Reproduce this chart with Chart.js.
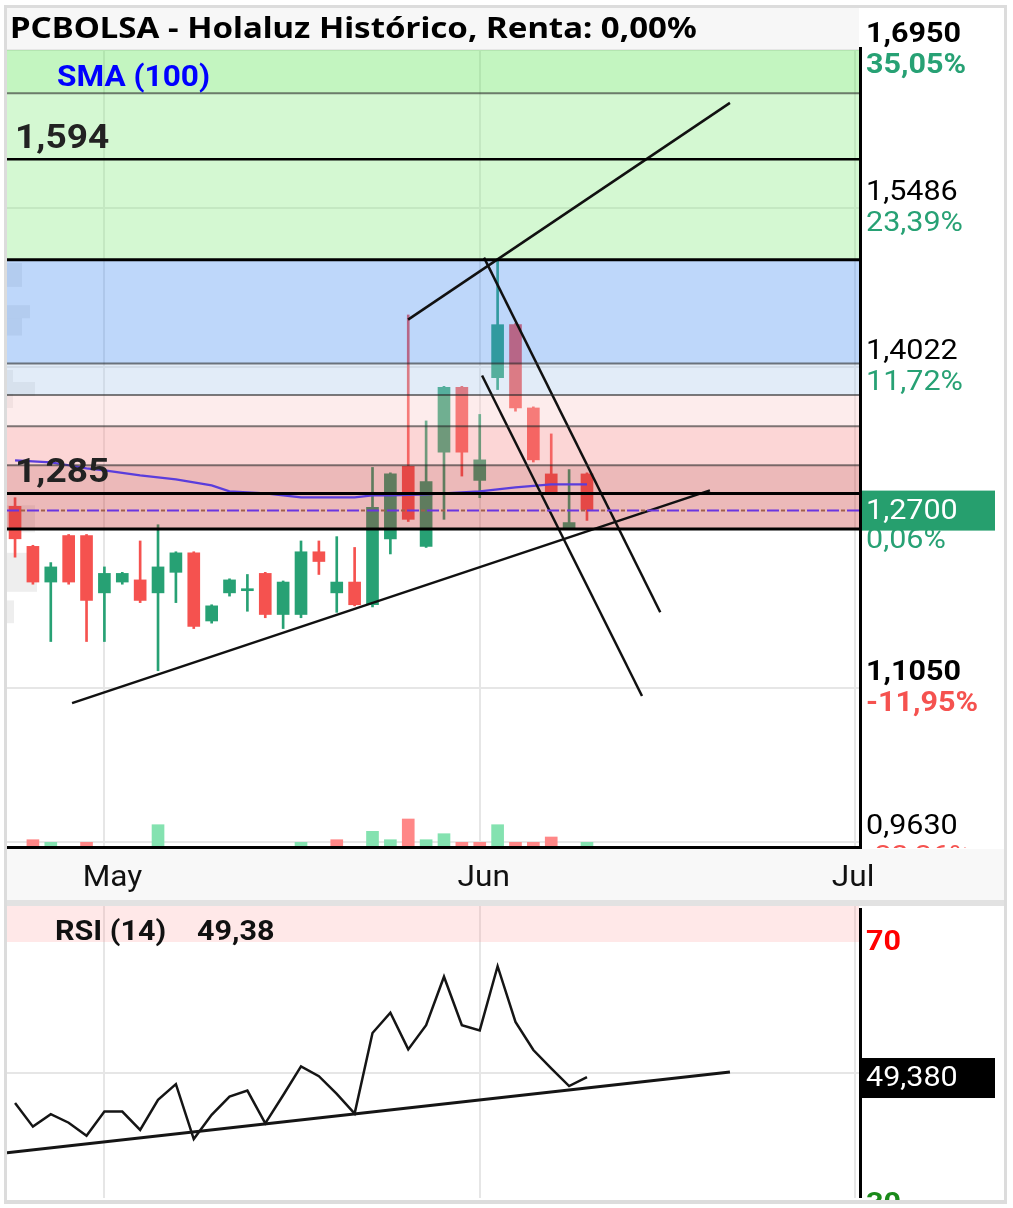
<!DOCTYPE html>
<html>
<head>
<meta charset="utf-8">
<script src="https://cdn.jsdelivr.net/npm/chart.js@4.4.1/dist/chart.umd.min.js"></script>
<style>
  html, body { margin: 0; padding: 0; background: #fff; }
  #wrap { position: relative; width: 1013px; height: 1208px; }
  #main { position: absolute; left: 0; top: 0; }
  #rsi { position: absolute; left: 0; top: 900px; }
</style>
</head>
<body>
<div id="wrap">
  <canvas id="main" width="1013" height="900"></canvas>
  <canvas id="rsi" width="1013" height="308"></canvas>
</div>
<script>
// ---- Sesiones (Holaluz, HLZ) ----
const dates = ['2025-04-24','2025-04-25','2025-04-28','2025-04-29','2025-04-30',
  '2025-05-02','2025-05-05','2025-05-06','2025-05-07','2025-05-08','2025-05-09',
  '2025-05-12','2025-05-13','2025-05-14','2025-05-15','2025-05-16','2025-05-19',
  '2025-05-20','2025-05-21','2025-05-22','2025-05-23','2025-05-26','2025-05-27',
  '2025-05-28','2025-05-29','2025-05-30','2025-06-02','2025-06-03','2025-06-04',
  '2025-06-05','2025-06-06','2025-06-09','2025-06-10'];

const open  = [1.273,1.236,1.203,1.246,1.246,1.193,1.203,1.205,1.193,1.212,1.230,1.167,1.193,1.195,1.211,1.173,1.173,1.231,1.193,1.203,1.182,1.243,1.310,1.236,1.323,1.383,1.297,1.392,1.441,1.364,1.303,1.253,1.303];
const high  = [1.281,1.237,1.221,1.247,1.247,1.217,1.212,1.241,1.256,1.231,1.231,1.182,1.206,1.210,1.212,1.204,1.241,1.241,1.245,1.235,1.309,1.304,1.450,1.352,1.384,1.384,1.358,1.501,1.442,1.365,1.340,1.307,1.304];
const low   = [1.226,1.201,1.148,1.201,1.148,1.148,1.201,1.184,1.121,1.184,1.160,1.165,1.190,1.176,1.170,1.160,1.170,1.210,1.175,1.181,1.180,1.229,1.259,1.235,1.261,1.301,1.281,1.381,1.361,1.314,1.285,1.252,1.260];
const close = [1.243,1.203,1.217,1.203,1.186,1.211,1.211,1.186,1.217,1.230,1.162,1.181,1.205,1.196,1.173,1.203,1.231,1.222,1.203,1.182,1.272,1.303,1.261,1.296,1.383,1.323,1.316,1.441,1.364,1.316,1.286,1.258,1.270];

// Volumen (miles de acciones)
const volume = [0,73,47,0,47,0,0,0,223,0,0,0,0,0,0,0,47,0,73,0,157,73,280,73,133,47,47,223,47,47,100,0,47];

// Perfil de volumen por precio: tramo [desde, hasta] y volumen acumulado
const profileFrom = [1.476, 1.447, 1.431, 1.388, 1.375, 1.364, 1.249, 1.194, 1.165];
const profileTo   = [1.498, 1.459, 1.447, 1.399, 1.388, 1.377, 1.274, 1.230, 1.186];
const profileVol  = [15, 23, 15, 6, 28, 6, 28, 30, 7];

// Media simple de 100 sesiones
const sma100 = [1.3155,1.3146,1.3137,1.3110,1.3081,1.3063,1.3040,1.3017,1.2998,1.2980,1.2952,1.2924,1.2869,1.2860,1.2850,1.2832,1.2813,1.2813,1.2813,1.2813,1.2832,1.2832,1.2836,1.2841,1.2850,1.2860,1.2869,1.2887,1.2906,1.2920,1.2933,1.2933,1.2933];

// RSI (14)
const rsi14 = [45.4,41.8,43.7,42.4,40.4,44.1,44.1,41.3,45.9,48.3,39.9,43.6,46.4,47.3,42.3,46.6,51.0,49.5,46.8,43.8,56.1,59.2,53.6,57.3,64.7,57.3,56.5,66.3,57.8,53.5,50.7,48.0,49.38];

// Niveles de Fibonacci (mínimo 1,252 -> máximo 1,501)
const fibLevels = [1.252, 1.311, 1.347, 1.376, 1.405, 1.501, 1.655];
// Soportes / resistencias horizontales
const hLevels = [1.594, 1.285];
const hLabels = ['1,594', '1,285'];

// Líneas de tendencia: [índice sesión, precio]
const trendPrice = [
  [[3.19, 1.0911], [38.88, 1.2878]],
  [[21.99, 1.4457], [40.00, 1.6461]],
  [[26.24, 1.5030], [36.10, 1.1751]],
  [[26.13, 1.3940], [35.08, 1.0976]]
];
const trendRsi = [[-0.45, 37.8], [40.0, 50.15]];

// Escala de precios
const priceTicks = [1.695, 1.5486, 1.4022, 1.105, 0.963];
const priceTickText = ['1,6950', '1,5486', '1,4022', '1,1050', '0,9630'];
const priceTickPct = ['35,05%', '23,39%', '11,72%', '-11,95%', '-23,26%'];
const lastPriceText = '1,2700';
const lastChangeText = '0,06%';

// Meses del eje temporal (índice de sesión)
const monthTicks = [5, 26, 47];
const monthLabels = ['May', 'Jun', 'Jul'];

const rsiTicks = [70, 30];
const rsiLastText = '49,380';
const rsiTitle = 'RSI (14)';
const rsiTitleValue = '49,38';
const titleText = 'PCBOLSA - Holaluz Histórico, Renta: 0,00%';

// ---------------------------------------------------------------
const RB = '"Roboto", "Liberation Sans", sans-serif';
Chart.defaults.font.family = 'Roboto';
const GREEN = '#27a174', RED = '#f5524f';
const VOL_GREEN = '#84e2b0', VOL_RED = '#ff8787';
const SX = 1.09;   // ancho de la tipografía de la aplicación
const candleColor = close.map((c, i) => c >= open[i] ? GREEN : RED);
const volColor = close.map((c, i) => (i > 0 && c < close[i - 1]) ? VOL_RED : VOL_GREEN);
const bandFills = [
  'rgba(201,55,55,0.35)',
  'rgba(246,138,138,0.35)',
  'rgba(249,201,201,0.35)',
  'rgba(172,201,235,0.35)',
  'rgba(69,141,241,0.35)',
  'rgba(132,235,126,0.35)',
  'rgba(84,226,75,0.35)'
];
const X_MIN = -0.45, X_MAX = 47.22;
const SMA_DS = 3;

function text(c, s, x, y, font, color, align, sx) {
  c.save();
  c.font = font; c.fillStyle = color; c.textAlign = align || 'left';
  c.textBaseline = 'middle';
  c.translate(x, y); c.scale(sx || SX, 1);
  c.fillText(s, 0, 0);
  c.restore();
}
function frame(c, h, topBar) {
  c.fillStyle = '#dcdcdc';
  c.fillRect(4, 5, 3, h);
  c.fillRect(1004, 5, 3, h);
  if (topBar) c.fillRect(4, 5, 1003, 3);
}

const mainDeco = {
  id: 'mainDeco',
  beforeDraw(chart) {
    const c = chart.ctx;
    c.save();
    c.fillStyle = '#fff'; c.fillRect(0, 0, chart.width, chart.height);
    c.fillStyle = '#f7f7f7'; c.fillRect(7, 8, 852, 42);
    c.restore();
  },
  beforeDatasetsDraw(chart) {
    // perfil de volumen a la izquierda
    const c = chart.ctx, y = chart.scales.y, a = chart.chartArea;
    c.save();
    c.fillStyle = 'rgba(150,150,150,0.16)';
    profileVol.forEach((v, i) => {
      const y0 = y.getPixelForValue(profileTo[i]), y1 = y.getPixelForValue(profileFrom[i]);
      c.fillRect(a.left, y0, v, y1 - y0);
    });
    c.restore();
  },
  beforeDatasetDraw(chart, args) {
    if (args.index !== SMA_DS) return;
    const c = chart.ctx, y = chart.scales.y, a = chart.chartArea;
    c.save();
    c.beginPath(); c.rect(a.left, a.top, a.right - a.left, a.bottom - a.top); c.clip();
    const edges = fibLevels.concat([y.max]);
    for (let i = 0; i < bandFills.length; i++) {
      const y0 = y.getPixelForValue(edges[i]), y1 = y.getPixelForValue(edges[i + 1]);
      c.fillStyle = bandFills[i];
      c.fillRect(a.left, y1, a.right - a.left, y0 - y1);
    }
    c.restore();
  },
  afterDatasetsDraw(chart) {
    const c = chart.ctx, x = chart.scales.x, y = chart.scales.y, a = chart.chartArea;
    c.save();
    c.beginPath(); c.rect(a.left, a.top, a.right - a.left, a.bottom - a.top); c.clip();
    // líneas de Fibonacci
    fibLevels.forEach((v, i) => {
      const py = y.getPixelForValue(v);
      const strong = (i === 0 || i === 5);
      c.strokeStyle = strong ? '#000' : 'rgba(40,40,40,0.6)';
      c.lineWidth = strong ? 3 : 2;
      c.beginPath(); c.moveTo(a.left, py); c.lineTo(a.right, py); c.stroke();
    });
    // horizontales
    hLevels.forEach((v, i) => {
      const py = y.getPixelForValue(v);
      c.strokeStyle = '#000'; c.lineWidth = i === 0 ? 2.5 : 3;
      c.beginPath(); c.moveTo(a.left, py); c.lineTo(a.right, py); c.stroke();
      text(c, hLabels[i], a.left + 8, py - 20, 'bold 34px ' + RB, '#222');
    });
    // precio actual
    const last = close[close.length - 1];
    const pl = Math.round(y.getPixelForValue(last)) + 0.5;
    c.lineWidth = 2;
    c.setLineDash([12, 8]); c.strokeStyle = '#6a35e0';
    c.beginPath(); c.moveTo(a.left, pl); c.lineTo(a.right, pl); c.stroke();
    c.setLineDash([4, 16]); c.lineDashOffset = -14; c.strokeStyle = '#a0604a';
    c.beginPath(); c.moveTo(a.left, pl); c.lineTo(a.right, pl); c.stroke();
    c.setLineDash([]);
    text(c, 'SMA (100)', 57, 79, 'bold 29px ' + RB, '#0000ff');
    c.restore();

    // ejes
    c.save();
    c.fillStyle = '#000';
    c.fillRect(a.right, a.top - 3, 3, a.bottom - a.top + 5);
    c.fillRect(a.left, a.bottom - 1, a.right - a.left + 2, 3);
    // franja de fechas
    c.fillStyle = '#f8f8f8'; c.fillRect(7, a.bottom + 2, 998, chart.height - a.bottom - 2);
    monthTicks.forEach((t, i) => {
      const dx = [8, 4, -2][i];
      text(c, monthLabels[i], x.getPixelForValue(t) + dx, 879, '29px ' + RB, '#111', 'center');
    });
    // etiquetas de precio
    c.beginPath(); c.rect(a.right + 3, 0, chart.width, a.bottom + 1); c.clip();
    priceTicks.forEach((v, i) => {
      const py = y.getPixelForValue(v);
      const bold = (i === 0 || i === 3);
      const neg = priceTickPct[i].charAt(0) === '-';
      text(c, priceTickText[i], 866, py - 15, (bold ? 'bold ' : '') + '28px ' + RB, '#000');
      text(c, priceTickPct[i], 866, py + 16, (bold ? 'bold ' : '') + '28px ' + RB, neg ? RED : GREEN);
    });
    const pp = y.getPixelForValue(last);
    text(c, lastChangeText, 866, pp + 31, '28px ' + RB, GREEN);
    c.fillStyle = '#269f6e'; c.fillRect(a.right + 1, pp - 19, 135, 40);
    text(c, lastPriceText, 866, pp + 2, '28px ' + RB, '#fff');
    c.restore();

    c.save();
    text(c, titleText, 10, 30, 'bold 28px "Noto Sans", ' + RB, '#000', 'left', 1.18);
    frame(c, 900, true);
    c.restore();
  }
};

const candleData = (a, b) => a.map((v, i) => ({ x: i, y: [v, b[i]] }));
const pts = arr => arr.map(p => ({ x: p[0], y: p[1] }));

const trendSets = trendPrice.map(seg => ({
  type: 'line', data: pts(seg), borderColor: '#111', borderWidth: 2.5,
  pointRadius: 0, order: 1, xAxisID: 'x', yAxisID: 'y'
}));

new Chart(document.getElementById('main'), {
  type: 'bar',
  data: {
    datasets: [
      { type: 'bar', label: 'Volumen', data: volume.map((v, i) => ({ x: i, y: v })),
        backgroundColor: volColor, barThickness: 12, grouped: false, order: 6,
        xAxisID: 'x', yAxisID: 'yv' },
      { type: 'bar', label: 'Rango', data: candleData(low, high),
        backgroundColor: candleColor, barThickness: 2, grouped: false, order: 5,
        xAxisID: 'x', yAxisID: 'y' },
      { type: 'bar', label: 'Cuerpo', data: candleData(open, close),
        backgroundColor: candleColor, barThickness: 12, minBarLength: 2, grouped: false, order: 4,
        xAxisID: 'x', yAxisID: 'y' },
      { type: 'line', label: 'SMA (100)', data: sma100.map((v, i) => ({ x: i, y: v })),
        borderColor: '#5a3ddc', borderWidth: 2.2, pointRadius: 0, tension: 0, order: 3,
        xAxisID: 'x', yAxisID: 'y' },
      ...trendSets
    ]
  },
  options: {
    responsive: false, animation: false, devicePixelRatio: 1,
    layout: { padding: { left: 7, top: 50, right: 0, bottom: 0 } },
    plugins: { legend: { display: false }, tooltip: { enabled: false } },
    scales: {
      x: {
        type: 'linear', min: X_MIN, max: X_MAX, offset: false,
        grid: { color: '#e6e6e6', lineWidth: 2, drawTicks: false, offset: false },
        border: { display: false },
        ticks: { display: false },
        afterBuildTicks: s => { s.ticks = monthTicks.map(v => ({ value: v })); },
        afterFit: s => { s.height = 53; }
      },
      y: {
        position: 'right', min: 0.958, max: 1.695,
        grid: { color: '#e6e6e6', lineWidth: 2, drawTicks: false },
        border: { display: false },
        ticks: { display: false },
        afterBuildTicks: s => { s.ticks = priceTicks.map(v => ({ value: v })); },
        afterFit: s => { s.width = 154; }
      },
      yv: { display: false, min: 0, max: 7970 }
    }
  },
  plugins: [mainDeco]
});

// ---------------- RSI ----------------
const rsiDeco = {
  id: 'rsiDeco',
  beforeDraw(chart) {
    const c = chart.ctx;
    c.save(); c.fillStyle = '#fff'; c.fillRect(0, 0, chart.width, chart.height);
    c.fillStyle = '#e2e2e2'; c.fillRect(4, 0, 1003, 6);
    c.restore();
  },
  beforeDatasetsDraw(chart) {
    const c = chart.ctx, y = chart.scales.y, a = chart.chartArea;
    const p70 = y.getPixelForValue(70);
    c.save(); c.fillStyle = 'rgba(255,140,140,0.2)';
    c.fillRect(a.left, a.top, a.right - a.left, p70 - a.top);
    c.restore();
  },
  afterDatasetsDraw(chart) {
    const c = chart.ctx, y = chart.scales.y, a = chart.chartArea;
    c.save();
    text(c, rsiTitle, 55, 33, 'bold 28px ' + RB, '#111');
    text(c, rsiTitleValue, 197, 33, 'bold 28px ' + RB, '#111');
    c.fillStyle = '#000'; c.fillRect(a.right, a.top + 2, 3, a.bottom - a.top - 2);
    c.beginPath(); c.rect(a.right + 3, 0, chart.width, 300); c.clip();
    text(c, String(rsiTicks[0]), 866, y.getPixelForValue(rsiTicks[0]) + 1, 'bold 28px ' + RB, '#ff0000');
    text(c, String(rsiTicks[1]), 866, y.getPixelForValue(rsiTicks[1]) + 1, 'bold 28px ' + RB, '#1a8a1a');
    const pr = y.getPixelForValue(rsi14[rsi14.length - 1]);
    c.fillStyle = '#000'; c.fillRect(a.right + 1, pr - 19, 135, 40);
    text(c, rsiLastText, 866, pr + 2, '28px ' + RB, '#fff');
    c.restore();
    c.save();
    c.fillStyle = '#dcdcdc';
    c.fillRect(4, 0, 3, 304); c.fillRect(1004, 0, 3, 304); c.fillRect(4, 300, 1003, 4);
    c.fillStyle = '#fff'; c.fillRect(0, 304, chart.width, 4);
    c.restore();
  }
};

new Chart(document.getElementById('rsi'), {
  type: 'line',
  data: {
    datasets: [
      { label: 'RSI (14)', data: rsi14.map((v, i) => ({ x: i, y: v })),
        borderColor: '#151515', borderWidth: 2.5, pointRadius: 0, tension: 0 },
      { label: 'Tendencia RSI', data: pts(trendRsi),
        borderColor: '#151515', borderWidth: 3, pointRadius: 0 }
    ]
  },
  options: {
    responsive: false, animation: false, devicePixelRatio: 1,
    layout: { padding: { left: 7, top: 6, right: 0, bottom: 0 } },
    plugins: { legend: { display: false }, tooltip: { enabled: false } },
    scales: {
      x: {
        type: 'linear', min: X_MIN, max: X_MAX,
        grid: { color: '#e6e6e6', lineWidth: 2, drawTicks: false },
        border: { display: false }, ticks: { display: false },
        afterBuildTicks: s => { s.ticks = monthTicks.map(v => ({ value: v })); },
        afterFit: s => { s.height = 10; }
      },
      y: {
        position: 'right', min: 30.9, max: 75.5,
        grid: { color: '#e6e6e6', lineWidth: 2, drawTicks: false },
        border: { display: false }, ticks: { display: false },
        afterBuildTicks: s => { s.ticks = [{ value: 50 }]; },
        afterFit: s => { s.width = 154; }
      }
    }
  },
  plugins: [rsiDeco]
});
</script>
</body>
</html>
